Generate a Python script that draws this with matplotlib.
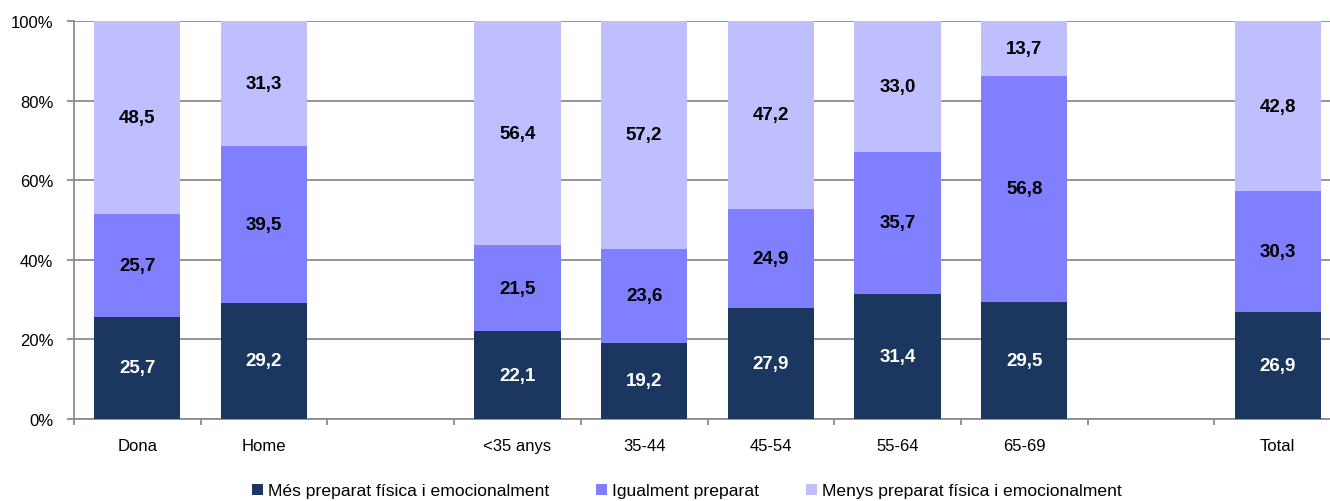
import matplotlib
matplotlib.use("Agg")
import matplotlib.pyplot as plt
import numpy as np

# data (blank slots are gaps between groups)
categories = ["Dona", "Home", "", "<35 anys", "35-44", "45-54", "55-64", "65-69", "", "Total"]
mes_preparat = [25.7, 29.2, None, 22.1, 19.2, 27.9, 31.4, 29.5, None, 26.9]
igual_preparat = [25.7, 39.5, None, 21.5, 23.6, 24.9, 35.7, 56.8, None, 30.3]
menys_preparat = [48.5, 31.3, None, 56.4, 57.2, 47.2, 33.0, 13.7, None, 42.8]
series_names = ["Més preparat física i emocionalment", "Igualment preparat",
                "Menys preparat física i emocionalment"]
colors = ["#1B365F", "#7F7FFF", "#BFBFFF"]
text_colors = ["white", "black", "black"]

plt.rcParams['font.family'] = ['Liberation Sans', 'DejaVu Sans']

fig = plt.figure(figsize=(13.3, 5.02), dpi=100)
ax = fig.add_axes([74 / 1330, 1 - 420 / 502, 1267 / 1330, 398 / 502])

x = np.arange(len(categories))
keep = [i for i, v in enumerate(mes_preparat) if v is not None]
xs = x[keep]
bottom = np.zeros(len(keep))
for vals, name, col, tc in zip([mes_preparat, igual_preparat, menys_preparat],
                               series_names, colors, text_colors):
    v = np.array([vals[i] for i in keep])
    ax.bar(xs, v, 0.68, bottom=bottom, color=col, label=name, zorder=3)
    for xi, b, h in zip(xs, bottom, v):
        ax.text(xi, b + h / 2, f"{h:.1f}".replace(".", ","), ha="center", va="center",
                color=tc, fontsize=13.5, fontweight="bold", zorder=4)
    bottom = bottom + v

ax.set_xlim(-0.5, len(categories) - 0.5)
ax.set_ylim(0, 100)
ax.set_yticks(np.arange(0, 101, 20))
ax.set_yticklabels([f"{t}%" for t in range(0, 101, 20)], fontsize=12)
ax.yaxis.grid(True, color="#8C8C8C", linewidth=1.3, zorder=0)
ax.set_xticks(x)
ax.set_xticklabels(categories, fontsize=12)
ax.set_xticks(np.arange(-0.5, len(categories), 1), minor=True)
ax.tick_params(axis="x", which="major", length=0, pad=14)
ax.tick_params(axis="x", which="minor", length=4.5, color="#8C8C8C", width=1.3)
ax.tick_params(axis="y", length=5, color="#8C8C8C", width=1.3, pad=10)
for s in ["top", "right"]:
    ax.spines[s].set_visible(False)
for s in ["left", "bottom"]:
    ax.spines[s].set_color("#8C8C8C")
    ax.spines[s].set_linewidth(1.3)
ax.set_axisbelow(True)

fig.legend(loc="center", bbox_to_anchor=(687 / 1330, 1 - 492 / 502), ncol=3, frameon=False,
           prop={"size": 12.6}, handlelength=0.6, handleheight=0.6,
           handletextpad=0.3, columnspacing=2.7, borderpad=0)

fig.savefig("out.png", dpi=100)
